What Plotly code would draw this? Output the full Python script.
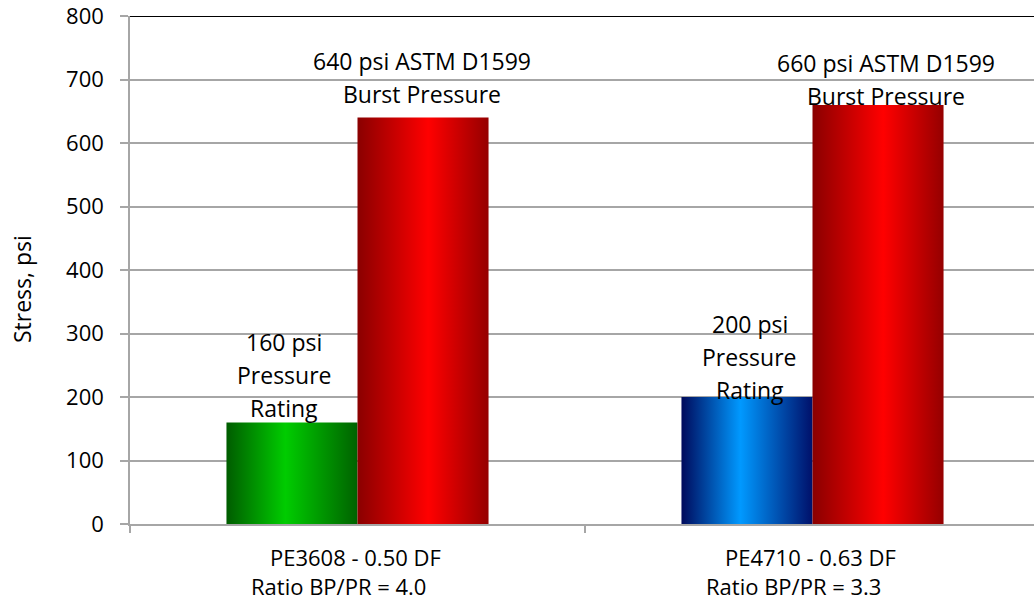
import plotly.graph_objects as go

# ---------------- data ----------------
categories = ["PE3608 - 0.50 DF", "PE4710 - 0.63 DF"]
ratio_labels = ["Ratio BP/PR = 4.0", "Ratio BP/PR = 3.3"]
pressure_rating = [160, 200]
burst_pressure = [640, 660]
rating_text = [["160 psi", "Pressure", "Rating"], ["200 psi", "Pressure", "Rating"]]
burst_text = [["640 psi ASTM D1599", "Burst Pressure"], ["660 psi ASTM D1599", "Burst Pressure"]]
y_tick_vals = [0, 100, 200, 300, 400, 500, 600, 700, 800]

# ---------------- layout constants ----------------
W, H = 1034, 603
L, R, T, B = 130, 0, 16, 79
PH = H - T - B
BARGAP = 0.424
bw = (1 - BARGAP) / 2
cat_px = 455.0
x_range = [-0.5, -0.5 + (W - L - R) / cat_px]
FONT = "Open Sans"
GRID = "#A6A6A6"

green_scale = [[0, "#005c00"], [0.45, "#00cc00"], [1, "#006200"]]
blue_scale = [[0, "#000a5c"], [0.45, "#0099ff"], [1, "#00106a"]]
red_scale = [[0, "#8a0000"], [0.54, "#ff0000"], [1, "#950000"]]
rating_scales = [green_scale, blue_scale]

fig = go.Figure()


def add_bar(x0, x1, v, scale):
    fig.add_trace(go.Scatter(
        x=[x0, x1, x1, x0, x0], y=[0, 0, v, v, 0],
        mode="lines", line=dict(width=0, color="rgba(0,0,0,0)"),
        fill="toself",
        fillgradient=dict(type="horizontal", colorscale=scale),
        hoverinfo="skip", showlegend=False))


for i, v in enumerate(pressure_rating):
    add_bar(i - bw, i, v, rating_scales[i])
for i, v in enumerate(burst_pressure):
    add_bar(i, i + bw, v, red_scale)


def py(px):
    """pixel row -> paper y"""
    return 1 - (px - T) / PH


ann = []
LINE = 33
LBL = dict(family=FONT, size=23, color="black")
burst_pos = [(0.141, 61), (1.1615, 63)]
rating_pos = [(-0.1615, 342), (0.8626, 324)]
for (x, y0), lines in zip(burst_pos + rating_pos, burst_text + rating_text):
    for k, t in enumerate(lines):
        ann.append(dict(x=x, y=py(y0 + k * LINE), xref="x", yref="paper", text=t,
                        showarrow=False, yanchor="middle", font=LBL))

# category labels
CAT = dict(family=FONT, size=22, color="black")
for i, (c, r) in enumerate(zip(categories, ratio_labels)):
    ann.append(dict(x=i, y=py(557), xref="x", yref="paper", text=c, showarrow=False,
                    xshift=-2, yanchor="middle", font=CAT))
    ann.append(dict(x=i, y=py(586), xref="x", yref="paper", text=r, showarrow=False,
                    xshift=-19, yanchor="middle", font=CAT))

# y axis title
ann.append(dict(x=(22 - L) / (W - L - R), y=py(289), xref="paper", yref="paper",
                text="Stress, psi", textangle=-90, showarrow=False,
                xanchor="center", yanchor="middle",
                font=dict(family=FONT, size=23, color="black")))

fig.update_layout(
    width=W, height=H,
    margin=dict(l=L, r=R, t=T, b=B, pad=0),
    paper_bgcolor="white", plot_bgcolor="white",
    showlegend=False,
    annotations=ann,
    xaxis=dict(range=x_range, showgrid=False, zeroline=False,
               tickmode="array", tickvals=[-0.5, 0.5, 1.5], ticktext=["", "", ""],
               ticks="outside", ticklen=7, tickcolor=GRID, tickwidth=1.5,
               showline=True, linecolor=GRID, linewidth=1.5, fixedrange=True),
    yaxis=dict(range=[0, 800], tickvals=y_tick_vals,
               showgrid=True, gridcolor=GRID, gridwidth=1.5,
               zeroline=False, showline=True, linecolor=GRID, linewidth=1.5,
               ticks="outside", ticklen=8, tickcolor=GRID, tickwidth=1.5,
               ticklabelstandoff=12, ticklabeloverflow="allow",
               tickfont=dict(family=FONT, size=22, color="black"), fixedrange=True),
    shapes=[dict(type="line", xref="paper", yref="y", x0=0, x1=1, y0=800, y1=800,
                 layer="above", line=dict(color="black", width=2))],
)

fig.write_html("out.html")
